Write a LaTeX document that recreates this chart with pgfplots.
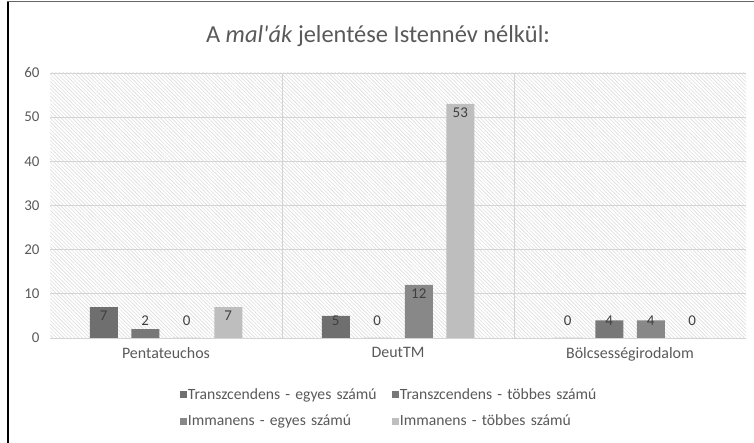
\documentclass[border=0pt]{standalone}
\usepackage{pgfplots}
\pgfplotsset{compat=1.18}
\usepackage{fontspec}
\setmainfont{Carlito}
\newfontfamily\cf{Carlito}
\usetikzlibrary{patterns.meta}
\definecolor{c1}{HTML}{6F6F6F}
\definecolor{c2}{HTML}{787878}
\definecolor{c3}{HTML}{888888}
\definecolor{c4}{HTML}{BEBEBE}
\definecolor{gridc}{HTML}{D4D4D4}
\definecolor{hatchc}{HTML}{DCDCDC}
\definecolor{txt}{HTML}{595959}
\definecolor{lbl}{HTML}{404040}
\begin{document}
\begin{tikzpicture}[x=1bp,y=1bp]
\path[use as bounding box] (0,0) rectangle (754,443);
\draw[black, line width=1.6bp] (8,0) -- (8,441.5);
\draw[black!60, line width=1.6bp] (7.2,441.5) -- (754,441.5);
\node[text=txt, font=\cf\fontsize{24.5}{28}\selectfont] at (378,407) {A \textit{mal'ák} jelentése Istennév nélkül:};
\begin{axis}[
  at={(50bp,105bp)}, anchor=south west, scale only axis,
  width=696bp, height=265bp,
  /pgf/number format/assume math mode=true,
  ymin=0, ymax=60, ytick={0,10,...,60},
  xmin=-0.5, xmax=2.5, xtick={0,1,2},
  xticklabels={Pentateuchos,DeutTM,Bölcsességirodalom},
  minor xtick={0.5,1.5}, xminorgrids, ymajorgrids,
  grid style={draw=gridc, line width=0.9bp},
  minor grid style={draw=gridc, line width=0.9bp},
  axis line style={draw=none},
  major tick length=0pt, minor tick length=0pt,
  tick label style={font=\fontsize{15}{17}\selectfont, text=txt},
  xticklabel style={yshift=-6bp, font=\fontsize{16}{18}\selectfont},
  yticklabel style={xshift=-7bp},
  axis background/.style={pattern={Lines[angle=-45,distance=2.6bp,line width=0.6bp]}, pattern color=hatchc},
  ybar=13.5bp, bar width=28bp,
  nodes near coords,
  visualization depends on={rawy \as \rawy},
  every node near coord/.append style={font=\fontsize{15}{17}\selectfont, text=lbl, anchor=center,
     yshift={max(-9,17-4.43*\rawy)}},
  legend columns=2,
  legend style={at={(0.492,-0.175)}, anchor=north, draw=none, fill=none,
    font=\fontsize{15.7}{18}\selectfont, text=txt,
    nodes={inner xsep=0.5bp, text width=204bp, align=left},
    row sep=10bp},
  legend image code/.code={\fill[#1] (0bp,-3.5bp) rectangle (7bp,3.5bp);},
]
\addplot[fill=c1, draw=none] coordinates {(0,7) (1,5) (2,0)};
\addplot[fill=c2, draw=none] coordinates {(0,2) (1,0) (2,4)};
\addplot[fill=c3, draw=none] coordinates {(0,0) (1,12) (2,4)};
\addplot[fill=c4, draw=none] coordinates {(0,7) (1,53) (2,0)};
\legend{Transzcendens - egyes számú, Transzcendens - többes számú, Immanens - egyes számú, Immanens - többes számú}
\end{axis}
\end{tikzpicture}
\end{document}
